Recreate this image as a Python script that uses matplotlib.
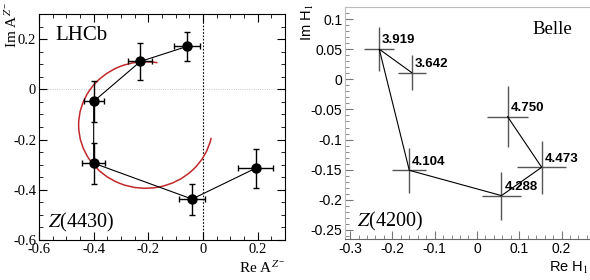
import numpy as np
import matplotlib
matplotlib.use('Agg')
import matplotlib.pyplot as plt
from matplotlib.patches import Arc
from matplotlib.ticker import MultipleLocator

plt.rcParams['mathtext.fontset'] = 'stix'

# --- LHCb Z(4430) Argand points ---
lhcb_re = [-0.058, -0.229, -0.400, -0.400, -0.040, 0.193]
lhcb_im = [0.171, 0.111, -0.048, -0.294, -0.437, -0.314]
lhcb_re_err = [0.047, 0.044, 0.036, 0.042, 0.049, 0.064]
lhcb_im_err = [0.057, 0.073, 0.082, 0.082, 0.062, 0.077]

bw_center = (-0.210, -0.142)
bw_rx, bw_ry = 0.245, 0.252
bw_theta = (80, 348)

# --- Belle Z(4200) Argand points (ordered by mass) ---
belle_mass = ['3.642', '3.919', '4.104', '4.288', '4.473', '4.750']
belle_re = [-0.154, -0.231, -0.160, 0.058, 0.153, 0.0725]
belle_im = [0.011, 0.050, -0.151, -0.193, -0.146, -0.062]
belle_re_err = [0.033, 0.036, 0.040, 0.045, 0.058, 0.048]
belle_im_err = [0.029, 0.037, 0.037, 0.040, 0.044, 0.051]

W, H = 590, 280
fig = plt.figure(figsize=(W / 100, H / 100), dpi=100)

# ---------------- left panel ----------------
ax1 = fig.add_axes([39 / W, 40 / H, 246 / W, 226 / H])
ax1.axhline(0, color='#bbbbbb', lw=0.6, ls=':', zorder=0)
ax1.axvline(0, color='black', lw=0.8, ls=(0, (1.5, 1.5)), zorder=1)
ax1.add_patch(Arc(bw_center, 2 * bw_rx, 2 * bw_ry, theta1=bw_theta[0], theta2=bw_theta[1],
                  color='#c0282a', lw=1.1, zorder=2))
ax1.plot(lhcb_re, lhcb_im, color='black', lw=0.8, zorder=3)
ax1.errorbar(lhcb_re, lhcb_im, xerr=lhcb_re_err, yerr=lhcb_im_err, fmt='o', color='black',
             ms=6.5, elinewidth=1.0, capsize=2, capthick=1.0, zorder=4)

ax1.xaxis.set_minor_locator(MultipleLocator(0.05))
ax1.yaxis.set_minor_locator(MultipleLocator(0.05))
ax1.set_xticks([-0.6, -0.4, -0.2, 0, 0.2])
ax1.set_xticklabels(['-0.6', '-0.4', '-0.2', '0', '0.2'])
ax1.set_yticks([-0.6, -0.4, -0.2, 0, 0.2])
ax1.set_yticklabels(['-0.6', '-0.4', '-0.2', '0', '0.2'])
ax1.tick_params(which='both', direction='in', top=True, right=True, labelsize=10.5, pad=2)
ax1.tick_params(which='major', length=6)
ax1.tick_params(which='minor', length=3)
for lab in ax1.get_xticklabels() + ax1.get_yticklabels():
    lab.set_family('Liberation Serif')
ax1.set_xlim(-0.6, 0.3)
ax1.set_ylim(-0.6, 0.3)

ax1.text(0.065, 0.945, 'LHCb', transform=ax1.transAxes, fontsize=15, family='Liberation Serif',
         va='top', ha='left')
ax1.text(0.035, 0.025, r'$Z$(4430)', transform=ax1.transAxes, fontsize=14.5, family='Liberation Serif',
         va='bottom', ha='left')
fig.text(285 / W, 1 - 276 / H, r'Re A$^{Z^{-}}$', fontsize=11, family='Liberation Serif',
         ha='right', va='bottom')
fig.text(3 / W, 1 - 2 / H, r'Im A$^{Z^{-}}$', fontsize=11, family='Liberation Serif',
         rotation=90, ha='left', va='top')

# ---------------- right panel ----------------
ax2 = fig.add_axes([345 / W, 41 / H, 247 / W, 232 / H])
ax2.plot(belle_re, belle_im, color='black', lw=0.8, zorder=3)
ax2.errorbar(belle_re, belle_im, xerr=belle_re_err, yerr=belle_im_err, fmt='none',
             ecolor='#555555', elinewidth=1.0, zorder=2)
for m, x, y in zip(belle_mass, belle_re, belle_im):
    ax2.annotate(m, (x, y), xytext=(2, 2), textcoords='offset points', fontsize=9.5,
                 fontweight='bold', family='Liberation Sans', ha='left', va='bottom')
ax2.xaxis.set_minor_locator(MultipleLocator(0.02))
ax2.yaxis.set_minor_locator(MultipleLocator(0.01))
ax2.set_xticks([-0.3, -0.2, -0.1, 0, 0.1, 0.2])
ax2.set_xticklabels(['-0.3', '-0.2', '-0.1', '0', '0.1', '0.2'])
ax2.set_yticks([-0.25, -0.2, -0.15, -0.1, -0.05, 0, 0.05, 0.1])
ax2.set_yticklabels(['-0.25', '-0.2', '-0.15', '-0.1', '-0.05', '0', '0.05', '0.1'])
ax2.set_xlim(-0.312, 0.272)
ax2.set_ylim(-0.265, 0.12)
ax2.tick_params(which='both', direction='in', labelsize=10, pad=2, color='#777777')
ax2.tick_params(which='major', length=6)
ax2.tick_params(which='minor', length=3)
for lab in ax2.get_xticklabels() + ax2.get_yticklabels():
    lab.set_family('Liberation Sans')
for side in ['left', 'top']:
    ax2.spines[side].set_color('#bbbbbb')
ax2.spines['bottom'].set_color('#666666')
ax2.spines['right'].set_visible(False)

ax2.text(0.92, 0.94, 'Belle', transform=ax2.transAxes, fontsize=13.5, family='Liberation Serif',
         va='top', ha='right')
ax2.text(0.05, 0.025, r'$Z$(4200)', transform=ax2.transAxes, fontsize=14.5, family='Liberation Serif',
         va='bottom', ha='left')
fig.text(589 / W, 1 - 276 / H, r'Re H$_1$', fontsize=10.5, family='Liberation Sans',
         ha='right', va='bottom')
fig.text(300 / W, 1 - 4 / H, r'Im H$_1$', fontsize=10.5, family='Liberation Sans',
         rotation=90, ha='left', va='top')

fig.savefig('out.png', dpi=100)
